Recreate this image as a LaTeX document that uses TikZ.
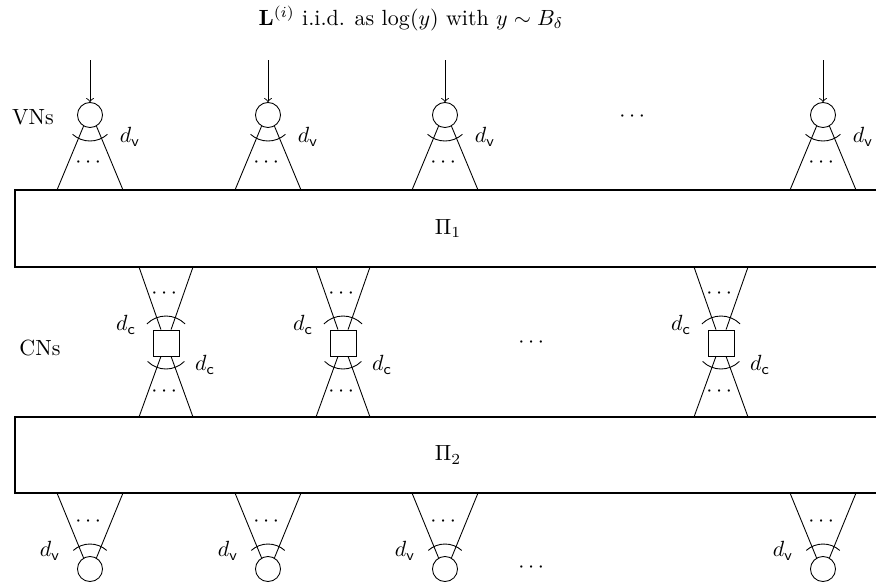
\documentclass[tikz,border=0pt]{standalone}
\usepackage{amsmath}
\begin{document}
\begin{tikzpicture}[x=0.455pt,y=-0.455pt,
  vn/.style={draw,circle,minimum size=11.4pt,inner sep=0pt},
  cn/.style={draw,rectangle,minimum size=11.8pt,inner sep=0pt},
  perm/.style={draw,very thick,rectangle,minimum width=394pt,inner sep=0pt},
  edge/.style={draw},
  sock/.style={draw}]
\useasboundingbox (0,0) rectangle (876,587);
\clip (0,0) rectangle (876,587);
\node (title) at (411,18) {$\mathbf{L}^{(i)}$ i.i.d. as $\log(y)$ with $y\sim B_\delta$};
% permutation boxes
\node[perm,minimum height=35pt] (P1) at (448,228.5) {$\Pi_1$};
\node[perm,minimum height=34.6pt] (P2) at (448,455) {$\Pi_2$};
\node (vnl) at (33,117) {VNs};
\node (cnl) at (40,348) {CNs};
% top VNs
\foreach \x [count=\i] in {90,268,445,823} {
  \node[vn] (vt\i) at (\x,115) {};
  \coordinate (vta\i) at (\x,60);
  \draw[->] (vta\i) -- (vt\i);
  \coordinate (vtl\i) at (\x-33,190);
  \coordinate (vtr\i) at (\x+33,190);
  \draw (vt\i.-120) -- (vtl\i);
  \draw (vt\i.-60) -- (vtr\i);
  \draw (vt\i.center) ++(132:26) arc[start angle=132,end angle=48,radius=26];
  \node (vtd\i) at (\x,163) {$\cdots$};
  \node (vtdv\i) at (\x+40,137) {$d_{\mathsf{v}}$};
}
\node (dtop) at (634,117) {$\cdots$};
% CNs
\foreach \x [count=\i] in {166,343,721} {
  \node[cn] (c\i) at (\x,343) {};
  \coordinate (cul\i) at (\x-27,267);
  \coordinate (cur\i) at (\x+27,267);
  \coordinate (cbl\i) at (\x-27,417);
  \coordinate (cbr\i) at (\x+27,417);
  \draw ([xshift=-2.3pt]c\i.north) -- (cul\i);
  \draw ([xshift=2.3pt]c\i.north) -- (cur\i);
  \draw ([xshift=-2.3pt]c\i.south) -- (cbl\i);
  \draw ([xshift=2.3pt]c\i.south) -- (cbr\i);
  \draw (c\i.center) ++(-135:27) arc[start angle=-135,end angle=-45,radius=27];
  \draw (c\i.center) ++(135:26) arc[start angle=135,end angle=45,radius=26];
  \node (cud\i) at (\x,294) {$\cdots$};
  \node (cbd\i) at (\x,392) {$\cdots$};
  \node (cdl\i) at (\x-40,325) {$d_{\mathsf{c}}$};
  \node (cdr\i) at (\x+39,365) {$d_{\mathsf{c}}$};
}
\node (dmid) at (533,343) {$\cdots$};
% bottom VNs
\foreach \x [count=\i] in {90,268,445,823} {
  \node[vn] (vb\i) at (\x,569) {};
  \coordinate (vbl\i) at (\x-33,493);
  \coordinate (vbr\i) at (\x+33,493);
  \draw (vb\i.120) -- (vbl\i);
  \draw (vb\i.60) -- (vbr\i);
  \draw (vb\i.center) ++(-132:25) arc[start angle=-132,end angle=-48,radius=25];
  \node (vbd\i) at (\x,522) {$\cdots$};
  \node (vbdv\i) at (\x-40,551) {$d_{\mathsf{v}}$};
}
\node (dbot) at (533,568) {$\cdots$};
\end{tikzpicture}
\end{document}
